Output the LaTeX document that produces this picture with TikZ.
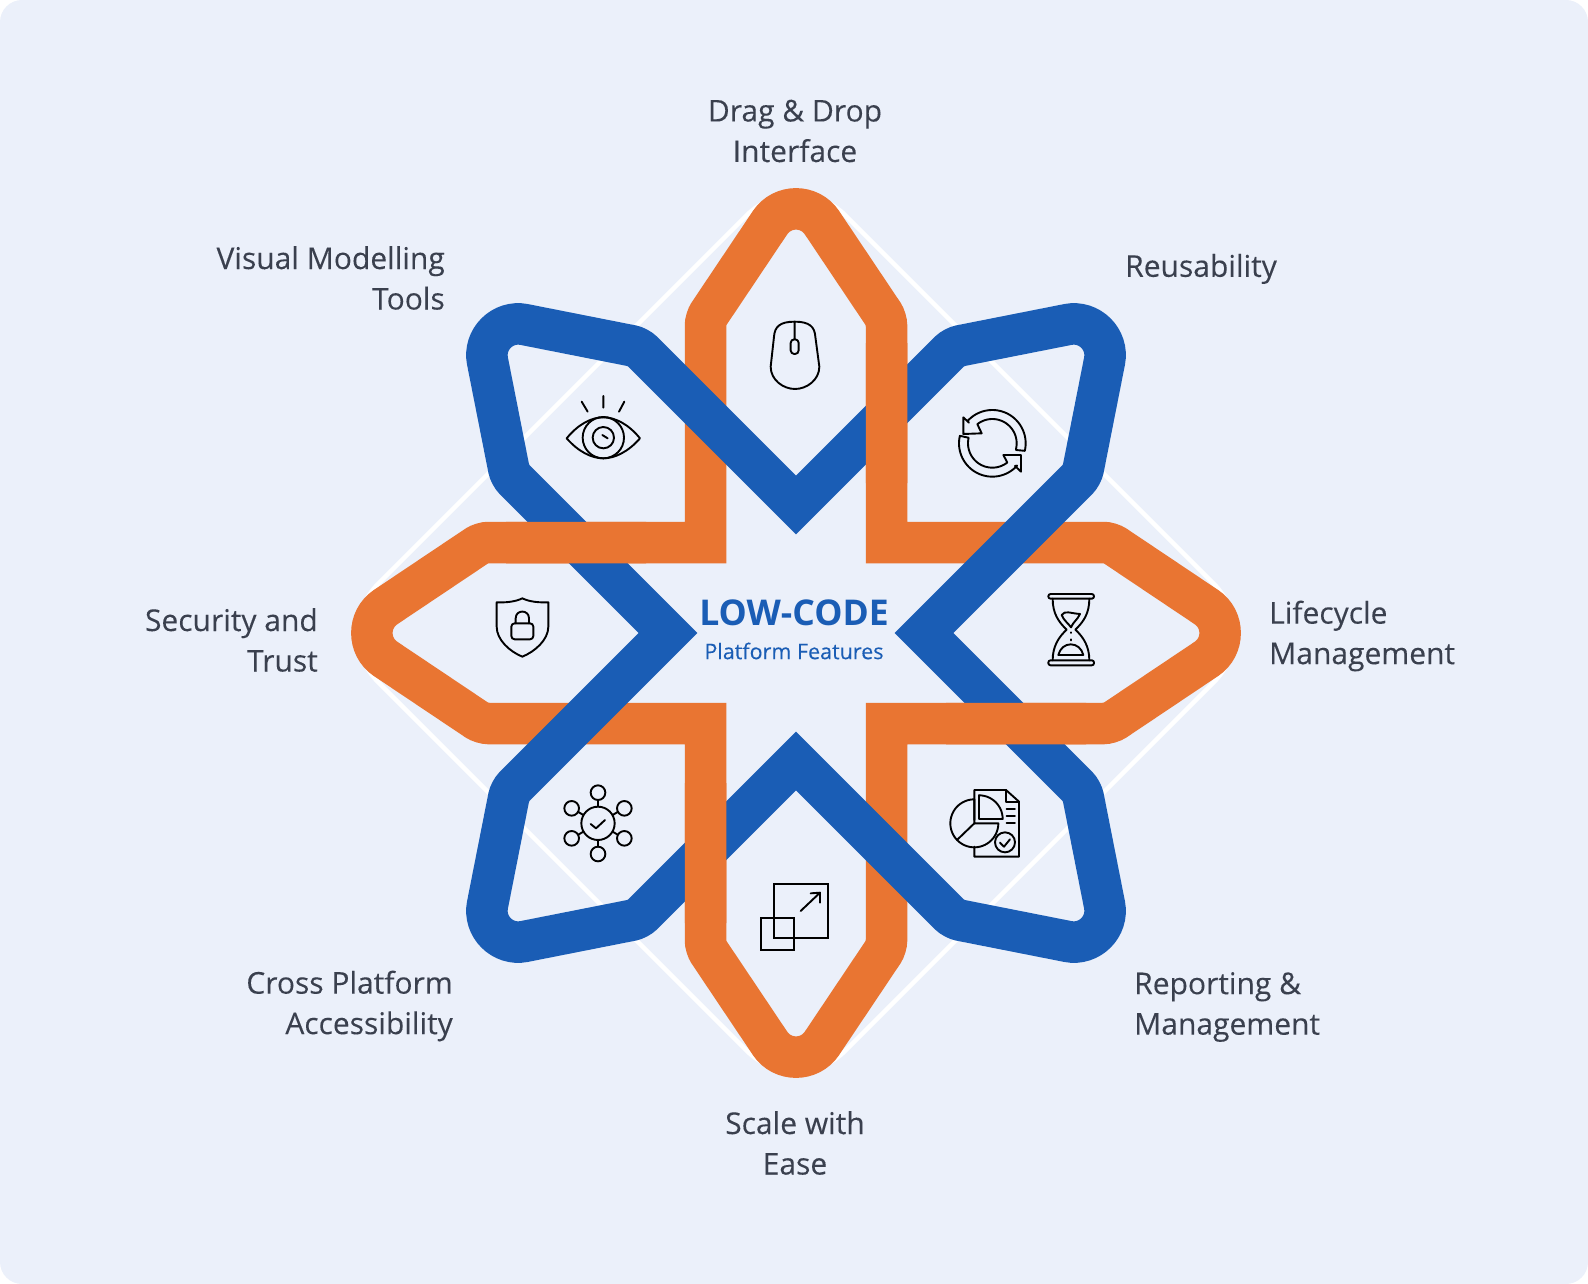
\documentclass[tikz,border=0pt]{standalone}
\usepackage{fontspec}
\setmainfont{Open Sans}[FakeBold=0.12]
\newfontfamily\centerfont{Open Sans}[BoldFont={Open Sans Bold}]
\definecolor{pagebg}{RGB}{235,240,250}
\definecolor{orangeband}{RGB}{233,117,50}
\definecolor{blueband}{RGB}{26,93,181}
\definecolor{labelink}{RGB}{58,64,78}
\newcommand{\bandpath}{%
  (90.5,-90.5) [rounded corners=6.5] -- (90.5,-314) [sharp corners] -- (25.9,-410.4) .. controls (13.6,-428.7) and (-13.6,-428.7) .. (-25.9,-410.4)
  [rounded corners=6.5] -- (-90.5,-314) [sharp corners] -- (-90.5,-90.5)
  [rounded corners=6.5] -- (-314,-90.5) [sharp corners] -- (-410.4,-25.9) .. controls (-428.7,-13.6) and (-428.7,13.6) .. (-410.4,25.9)
  [rounded corners=6.5] -- (-314,90.5) [sharp corners] -- (-90.5,90.5)
  [rounded corners=6.5] -- (-90.5,314) [sharp corners] -- (-25.9,410.4) .. controls (-13.6,428.7) and (13.6,428.7) .. (25.9,410.4)
  [rounded corners=6.5] -- (90.5,314) [sharp corners] -- (90.5,90.5)
  [rounded corners=6.5] -- (314,90.5) [sharp corners] -- (410.4,25.9) .. controls (428.7,13.6) and (428.7,-13.6) .. (410.4,-25.9)
  [rounded corners=6.5] -- (314,-90.5) [sharp corners] -- (90.5,-90.5) -- cycle}
\tikzset{
  band/.style={line width=41.5pt,line join=miter,miter limit=10},
  lbl/.style={text=labelink,font=\fontsize{30}{40.5}\selectfont,inner sep=0pt,align=#1},
  ico/.style={draw=black,line width=1.9pt,line join=round,line cap=round},
}
\begin{document}
\begin{tikzpicture}[x=1pt,y=-1pt]
\useasboundingbox (0,0) rectangle (1588,1284);
\fill[pagebg,rounded corners=22] (0,0) rectangle (1588,1284);
% white diamond behind the bands
\draw[white,line width=4.5pt,rounded corners=70] (796,166) -- (1263,633) -- (796,1100) -- (329,633) -- cycle;
\begin{scope}[shift={(796,633)}]
  \draw[band,orangeband] \bandpath;
  \begin{scope}[rotate=45]
    \draw[band,blueband] \bandpath;
  \end{scope}
  % orange passes back over blue at alternate crossings
  \begin{scope}
    \clip (60,-290) rectangle (125,-150)
          (150,60) rectangle (290,125)
          (-125,150) rectangle (-60,290)
          (-290,-125) rectangle (-150,-60);
    \draw[band,orangeband] \bandpath;
  \end{scope}
\end{scope}
% mouse
\begin{scope}[shift={(640,170)},scale=1/3]
  \draw[ico] (464,455) .. controls (420,455) and (404,470) .. (402,500) -- (392,590) .. controls (392,630) and (430,657) .. (465,657) .. controls (500,657) and (538,630) .. (538,590) -- (526,500) .. controls (524,470) and (508,455) .. (464,455) -- (464,508);
  \draw[ico,rounded corners=3.6] (452,508) rectangle (476,552);
  % refresh
  \draw[ico] (1128,840) -- plot[domain=13:-128,samples=30] ({1057+73*cos(\x)},{820+73*sin(\x)}) -- (1025,790) -- (970,792) -- (970,742) -- (987,758) -- plot[domain=-138:13,samples=40] ({1057+100*cos(\x)},{820+100*sin(\x)}) -- cycle;
  \draw[ico] (985,803) -- plot[domain=193:52,samples=30] ({1057+73*cos(\x)},{820+73*sin(\x)}) -- (1090,855) -- (1143,855) -- (1143,905) -- (1125,888) -- plot[domain=42:193,samples=40] ({1057+100*cos(\x)},{820+100*sin(\x)}) -- cycle;
\end{scope}
% eye and shield
\begin{scope}[shift={(340,280)},scale=1/3]
  \draw[ico] (725,365) -- (743,395) (790,348) -- (790,383) (853,365) -- (837,395);
  \draw[ico] (680,475) .. controls (715,432) and (755,412) .. (790,412) .. controls (825,412) and (865,432) .. (900,475) .. controls (865,515) and (825,535) .. (790,535) .. controls (755,535) and (715,515) .. (680,475) -- cycle;
  \draw[ico] (790,473) circle[radius=62];
  \draw[ico] (790,473) circle[radius=32];
  \draw[ico] (787,465) -- (803,475);
  \draw[ico] (547,955) .. controls (525,966) and (495,968) .. (470,967) -- (470,1040) .. controls (470,1080) and (510,1115) .. (547,1130) .. controls (584,1115) and (625,1080) .. (625,1040) -- (625,967) .. controls (600,968) and (569,966) .. (547,955) -- cycle;
  \draw[ico,rounded corners=3.3] (514,1030) rectangle (580,1078);
  \draw[ico] (527,1030) -- (527,1015) .. controls (527,988) and (567,988) .. (567,1015) -- (567,1030);
\end{scope}
% hourglass and report
\begin{scope}[shift={(880,500)},scale=1/3]
  \draw[ico,rounded corners=2.2] (505,282) rectangle (642,296);
  \draw[ico,rounded corners=2.2] (505,481) rectangle (642,496);
  \draw[ico] (518,296) .. controls (518,340) and (535,365) .. (560,389) .. controls (535,412) and (518,440) .. (518,481);
  \draw[ico] (628,296) .. controls (628,340) and (611,365) .. (586,389) .. controls (611,412) and (628,440) .. (628,481);
  \draw[ico] (545,345) .. controls (555,330) and (570,340) .. (600,342) .. controls (592,360) and (580,365) .. (573,382) .. controls (565,370) and (550,360) .. (545,345) -- cycle;
  \draw[ico] (572,397) -- (572,399) (572,418) -- (572,421);
  \draw[ico] (535,465) .. controls (540,445) and (555,433) .. (572,433) .. controls (590,433) and (605,445) .. (610,465) -- cycle;
  \draw[ico] (283,960) -- (283,870) -- (378,870) -- (417,905) -- (417,1070) -- (283,1070) -- (283,1040);
  \draw[ico] (378,870) -- (378,905) -- (417,905);
  \draw[ico] (297,885) -- (297,957) -- (368,957) -- plot[domain=0:-90,samples=30] ({297+71*cos(\x)},{957+71*sin(\x)});
  \draw[ico] (283,898) -- plot[domain=-90:-270,samples=40] ({283+72*cos(\x)},{970+72*sin(\x)}) -- plot[domain=90:0,samples=25] ({283+72*cos(\x)},{970+72*sin(\x)}) -- (283,970) -- cycle;
  \draw[ico] (283,970) -- (233,1018);
  \draw[ico] (380,928) -- (405,928) (380,948) -- (405,948) (380,968) -- (405,968);
  \draw[ico,fill=pagebg] (375,1027) circle[radius=30];
  \draw[ico] (360,1028) -- (372,1040) -- (390,1018);
\end{scope}
% network and scale
\begin{scope}[shift={(450,720)},scale=1/3]
  \draw[ico] (444,260) -- (444,240) (444,360) -- (444,380) (400,285) -- (385,276) (488,285) -- (503,276) (400,335) -- (385,344) (488,335) -- (503,344);
  \draw[ico] (444,310) circle[radius=50];
  \draw[ico] (422,312) -- (438,325) -- (465,300);
  \draw[ico] (444,218) circle[radius=22];
  \draw[ico] (444,402) circle[radius=22];
  \draw[ico] (365,265) circle[radius=22];
  \draw[ico] (523,265) circle[radius=22];
  \draw[ico] (365,355) circle[radius=22];
  \draw[ico] (523,355) circle[radius=22];
  \draw[ico,line cap=butt,line join=miter] (972,492) rectangle (1135,653);
  \draw[ico,line cap=butt,line join=miter] (933,593) rectangle (1033,690);
  \draw[ico] (1052,573) -- (1110,518) (1082,520) -- (1110,518) -- (1110,548);
\end{scope}
% labels
\node[lbl=center,anchor=center] (drag) at (795,131) {Drag \& Drop\\Interface};
\node[lbl=left,anchor=west] (reuse) at (1125,269) {Reusability};
\node[lbl=left,anchor=west] (life) at (1269,636) {Lifecycle\\Management};
\node[lbl=left,anchor=west] (report) at (1134,1007) {Reporting \&\\Management};
\node[lbl=center,anchor=center] (scale) at (795,1143) {Scale with\\Ease};
\node[lbl=right,anchor=east] (cross) at (453,1006) {Cross Platform\\Accessibility};
\node[lbl=right,anchor=east] (secure) at (318,640) {Security and\\Trust};
\node[lbl=right,anchor=east] (visual) at (445,278) {Visual Modelling\\Tools};
\node[text=blueband,font=\centerfont\fontsize{35.5}{40}\selectfont\bfseries,inner sep=0pt] (lowcode) at (794,612.5) {LOW-CODE};
\node[text=blueband,font=\fontsize{21.5}{24}\selectfont,inner sep=0pt] (platform) at (794,651) {Platform Features};
\end{tikzpicture}
\end{document}
